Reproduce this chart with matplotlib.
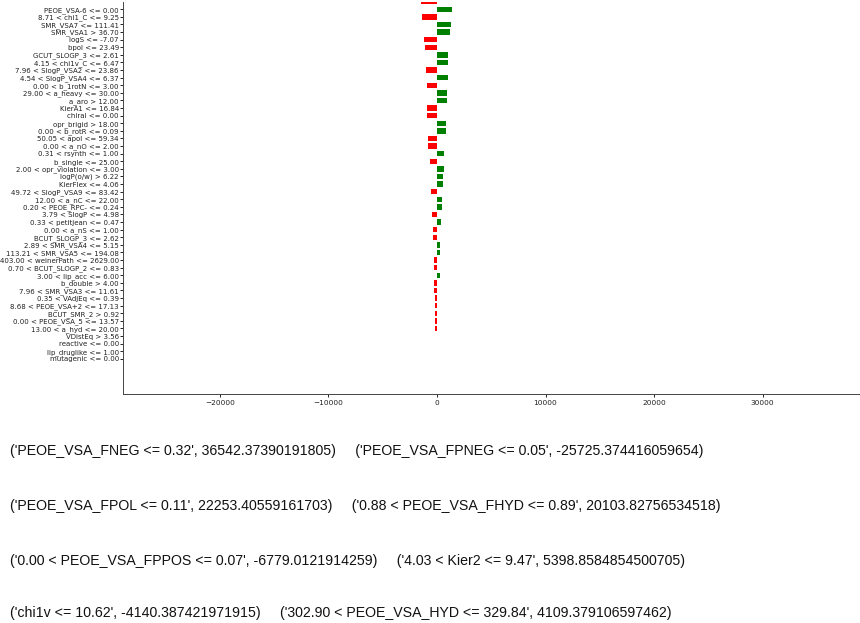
import matplotlib
matplotlib.use("Agg")
import matplotlib.pyplot as plt

# lime-style explanation: feature conditions and weights (top rows are cropped off)
labels = [
    "",
    "PEOE_VSA-6 <= 0.00",
    "8.71 < chi1_C <= 9.25",
    "SMR_VSA7 <= 111.41",
    "SMR_VSA1 > 36.70",
    "logS <= -7.07",
    "bpol <= 23.49",
    "GCUT_SLOGP_3 <= 2.61",
    "4.15 < chi1v_C <= 6.47",
    "7.96 < SlogP_VSA2 <= 23.86",
    "4.54 < SlogP_VSA4 <= 6.37",
    "0.00 < b_1rotN <= 3.00",
    "29.00 < a_heavy <= 30.00",
    "a_aro > 12.00",
    "KierA1 <= 16.84",
    "chiral <= 0.00",
    "opr_brigid > 18.00",
    "0.00 < b_rotR <= 0.09",
    "50.05 < apol <= 59.34",
    "0.00 < a_nO <= 2.00",
    "0.31 < rsynth <= 1.00",
    "b_single <= 25.00",
    "2.00 < opr_violation <= 3.00",
    "logP(o/w) > 6.22",
    "KierFlex <= 4.06",
    "49.72 < SlogP_VSA9 <= 83.42",
    "12.00 < a_nC <= 22.00",
    "0.20 < PEOE_RPC- <= 0.24",
    "3.79 < SlogP <= 4.98",
    "0.33 < petitjean <= 0.47",
    "0.00 < a_nS <= 1.00",
    "BCUT_SLOGP_3 <= 2.62",
    "2.89 < SMR_VSA4 <= 5.15",
    "113.21 < SMR_VSA5 <= 194.08",
    "403.00 < weinerPath <= 2629.00",
    "0.70 < BCUT_SLOGP_2 <= 0.83",
    "3.00 < lip_acc <= 6.00",
    "b_double > 4.00",
    "7.96 < SMR_VSA3 <= 11.61",
    "0.35 < VAdjEq <= 0.39",
    "8.68 < PEOE_VSA+2 <= 17.13",
    "BCUT_SMR_2 > 0.92",
    "0.00 < PEOE_VSA_5 <= 13.57",
    "13.00 < a_hyd <= 20.00",
    "VDistEq > 3.56",
    "reactive <= 0.00",
    "lip_druglike <= 1.00",
    "mutagenic <= 0.00",
]
weights = [
    -1500, 1400, -1380, 1250, 1220, -1210, -1100, 1040, 1030, -1020,
    980, -950, 945, 940, -930, -920, 850, 845, -840, -800,
    680, -670, 640, 590, 580, -550, 440, 430, -425, 380,
    -375, -370, 300, 295, -290, -285, 250, -250, -240, -220,
    -210, -190, -180, -150, -20, 10, -5, 2,
]

# top weights printed under the chart
top_feats = [
    ("PEOE_VSA_FNEG <= 0.32", 36542.37390191805),
    ("PEOE_VSA_FPNEG <= 0.05", -25725.374416059654),
    ("PEOE_VSA_FPOL <= 0.11", 22253.40559161703),
    ("0.88 < PEOE_VSA_FHYD <= 0.89", 20103.82756534518),
    ("0.00 < PEOE_VSA_FPPOS <= 0.07", -6779.0121914259),
    ("4.03 < Kier2 <= 9.47", 5398.8584854500705),
    ("chi1v <= 10.62", -4140.387421971915),
    ("302.90 < PEOE_VSA_HYD <= 329.84", 4109.379106597462),
]

W, H = 860, 623
fig = plt.figure(figsize=(W / 100, H / 100), dpi=100)

# axes box in pixels (top of the original figure is cut off)
left_px, bottom_px, top_px = 123, 394, 2
ax = fig.add_axes([left_px / W, 1 - bottom_px / H, 1 - left_px / W,
                   (bottom_px - top_px) / H])

pos = [-i for i in range(len(labels))]
colors = ["green" if w > 0 else "red" for w in weights]
ax.barh(pos, weights, height=0.7, color=colors, align="center")

ax.set_yticks(pos[1:])
ax.set_yticklabels(labels[1:], fontsize=5.0, color="#222222")
ax.tick_params(axis="both", length=2, width=0.6, pad=1)
ax.tick_params(axis="x", labelsize=5.3, labelcolor="#222222", pad=2)
ax.set_xticks([-20000, -10000, 0, 10000, 20000, 30000])

# row 0 sits at 1.7 px, rows are 7.6 px apart
row_px = 7.6
ax.set_ylim(-(bottom_px - 1.7) / row_px, -(top_px - 1.7) / row_px)
zero_px, px_per = 437, 108.5 / 10000
ax.set_xlim((left_px - zero_px) / px_per, (W - zero_px) / px_per)

for s in ["top", "right"]:
    ax.spines[s].set_visible(False)
for s in ["left", "bottom"]:
    ax.spines[s].set_linewidth(0.7)
    ax.spines[s].set_color("#444444")

# printed tuples, two per line
line_y = [451, 506, 561, 613]
for k, y in enumerate(line_y):
    a = top_feats[2 * k]
    b = top_feats[2 * k + 1]
    txt = str(a) + "     " + str(b)
    fig.text(10 / W, 1 - y / H, txt, fontsize=10.2, family="Liberation Sans",
             va="center", ha="left", color="#111111")

fig.savefig("out.png", dpi=100)
